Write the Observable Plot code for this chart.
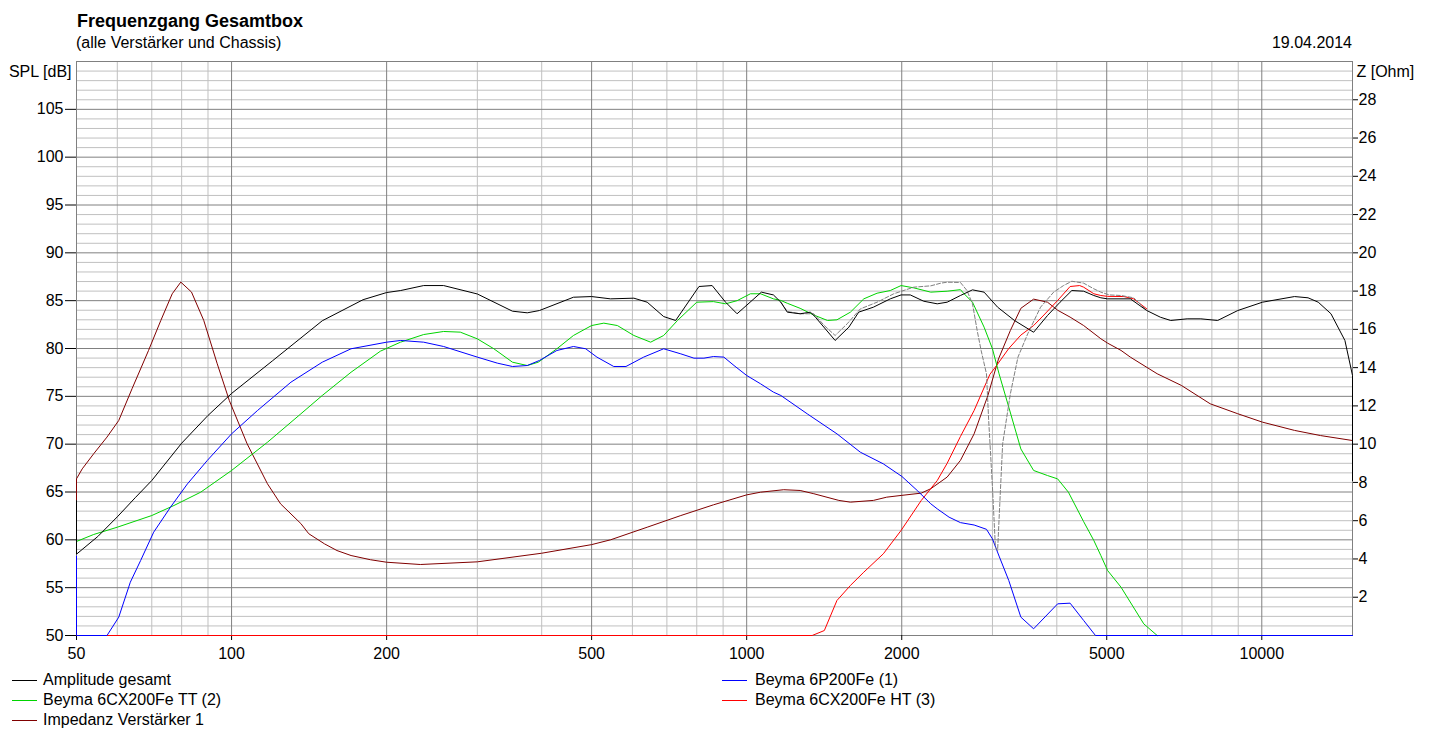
<!DOCTYPE html>
<html>
<head>
<meta charset="utf-8">
<script src="https://cdn.jsdelivr.net/npm/d3@7"></script>
<script src="https://cdn.jsdelivr.net/npm/@observablehq/plot@0.6"></script>
<style>
  body { margin: 0; background: #fff; }
  #page { position: relative; width: 1431px; height: 735px; font-family: "Liberation Sans", Arial, sans-serif; color: #000; }
  .txt { position: absolute; white-space: nowrap; }
  #title { left: 77px; top: 12px; font-size: 18px; line-height: 18px; font-weight: bold; }
  #subtitle { left: 76px; top: 35px; font-size: 16px; line-height: 16px; }
  #date { right: 79px; top: 35px; font-size: 16px; line-height: 16px; }
  #chart { position: absolute; left: 0; top: 52px; }
  .leg { position: absolute; font-size: 16px; line-height: 16px; white-space: nowrap; }
  .swatch { position: absolute; height: 0; border-top: 1px solid; }
</style>
</head>
<body>
<div id="page">
  <div class="txt" id="title">Frequenzgang Gesamtbox</div>
  <div class="txt" id="subtitle">(alle Verstärker und Chassis)</div>
  <div class="txt" id="date">19.04.2014</div>
  <div id="chart"></div>
  <div id="legend"></div>
</div>
<script>
// axes
const freqTicks = [50, 100, 200, 500, 1000, 2000, 5000, 10000];
const freqMajor = [100, 200, 500, 1000, 2000, 5000, 10000];
const freqMinor = [60, 70, 80, 90, 300, 400, 600, 700, 800, 900, 3000, 4000, 6000, 7000, 8000, 9000];
const splTicks = [50, 55, 60, 65, 70, 75, 80, 85, 90, 95, 100, 105];
const zTicks = [2, 4, 6, 8, 10, 12, 14, 16, 18, 20, 22, 24, 26, 28];

// Amplitude gesamt (dB)
const gesamtF = [50, 50, 55, 60, 65, 70, 80, 90, 100, 120, 150, 180, 200, 213, 236, 258, 300, 351, 375, 396,
  461, 500, 544, 604, 641, 690, 728, 808, 857, 910, 958, 1068, 1127, 1165, 1199, 1270, 1330, 1360, 1485, 1579,
  1650, 1762, 1900, 1994, 2078, 2207, 2344, 2450, 2600, 2744, 2890, 3070, 3310, 3606, 3837, 4059, 4278, 4510, 4720, 4870,
  5020, 5557, 5980, 6355, 6655, 7163, 7615, 8210, 8982, 10030, 11575, 12297, 12870, 13624, 14500, 15000, 15000];
const gesamtDb = [64.1, 58.5, 60.35, 62.4, 64.4, 66.2, 70.1, 73.0, 75.3, 78.7, 82.9, 85.1, 85.85, 86.06, 86.58, 86.58, 85.7, 83.9, 83.73, 83.97,
  85.36, 85.43, 85.19, 85.26, 84.84, 83.34, 82.93, 86.48, 86.58, 84.84, 83.63, 85.89, 85.6, 84.84, 83.8, 83.63, 83.8, 83.27, 80.84, 82.23,
  83.8, 84.32, 85.19, 85.6, 85.6, 84.94, 84.67, 84.84, 85.54, 86.13, 85.89, 84.32, 82.93, 81.7, 83.45, 84.84, 86.06, 85.99, 85.54, 85.3,
  85.19, 85.19, 83.97, 83.27, 82.93, 83.1, 83.1, 82.93, 83.97, 84.84, 85.43, 85.3, 84.84, 83.63, 80.84, 77.18, 66.2];

// Beyma 6P200Fe (1)
const p200F = [50, 50, 57.3, 60.4, 63.6, 66.6, 70.6, 76.1, 82.1, 89.7, 100, 112.3, 130.4, 150, 170.6, 200, 213, 236, 258, 300,
  328, 351, 375, 396, 428, 461, 487, 512, 552, 583, 631, 690, 745, 790, 826, 862, 903, 945, 1000, 1064,
  1127, 1165, 1311, 1497, 1662, 1842, 2002, 2143, 2277, 2344, 2471, 2600, 2764, 2921, 3000, 3090, 3227, 3406, 3606, 4015,
  4245, 4510, 4755, 15000];
const p200Db = [58.3, 50, 50, 51.92, 55.57, 57.84, 60.8, 63.41, 65.85, 68.29, 71.08, 73.52, 76.48, 78.57, 79.97, 80.66, 80.84, 80.66, 80.21, 79.1,
  78.47, 78.12, 78.22, 78.75, 79.79, 80.21, 79.97, 79.1, 78.12, 78.12, 79.1, 79.97, 79.44, 78.99, 78.99, 79.16, 79.1, 78.22, 77.18, 76.31,
  75.44, 75.09, 73.17, 71.08, 69.16, 67.94, 66.62, 65.16, 63.77, 63.24, 62.37, 61.8, 61.55, 61.1, 60.1, 58.3, 55.75, 51.92, 50.7, 53.31,
  53.38, 51.57, 50, 50];

// Beyma 6CX200Fe TT (2)
const ttF = [50, 54, 60, 70, 77.3, 87.1, 100, 117.4, 136.3, 150, 170.6, 194.5, 212.8, 236, 258, 278, 300, 323, 351, 375,
  394, 428, 461, 500, 528, 561, 604, 651, 690, 734, 800, 862, 910, 958, 1017, 1064, 1127, 1165, 1199, 1270,
  1350, 1435, 1497, 1590, 1688, 1791, 1900, 1994, 2110, 2277, 2450, 2600, 2643, 2744, 2890, 3000, 3090, 3227, 3406, 3606,
  3837, 4015, 4213, 4510, 4720, 4870, 5020, 5330, 5900, 6265];
const ttDb = [59.83, 60.56, 61.32, 62.54, 63.59, 64.98, 67.25, 70.2, 73.17, 75.09, 77.52, 79.72, 80.66, 81.46, 81.78, 81.71, 81.01, 79.97, 78.57, 78.22,
  78.57, 79.97, 81.36, 82.4, 82.65, 82.4, 81.36, 80.66, 81.36, 82.93, 84.84, 84.9, 84.67, 85.0, 85.72, 85.72, 85.19, 85.02, 84.73, 84.2,
  83.5, 82.93, 83.0, 83.8, 85.19, 85.78, 86.06, 86.58, 86.34, 85.89, 85.99, 86.15, 85.72, 84.84, 82.23, 79.97, 77.35, 73.87, 69.5, 67.25,
  66.72, 66.37, 64.98, 61.9, 59.93, 58.36, 56.79, 55.05, 51.22, 50];

// Beyma 6CX200Fe HT (3)
const htF = [50, 1340, 1415, 1497, 1590, 1688, 1842, 1994, 2182, 2344, 2450, 2600, 2764, 2966, 3040, 3227, 3406, 3606, 3776, 4015,
  4245, 4430, 4510, 4720, 4870, 5020, 5400, 5640, 5980];
const htDb = [50, 50, 50.52, 53.66, 55.23, 56.62, 58.54, 60.98, 64.11, 66.2, 68.0, 70.8, 73.52, 77.3, 78.05, 80.0, 81.4, 82.4, 83.5, 85.02,
  86.48, 86.58, 86.41, 85.72, 85.54, 85.45, 85.43, 85.19, 84.14];

// grey dashed sum curve
const dashF = [1165, 1199, 1270, 1350, 1415, 1485, 1567, 1662, 1791, 1930, 2110, 2277, 2382, 2450, 2600, 2677, 2744, 2802, 2852, 2921,
  2950, 3000, 3040, 3070, 3100, 3140, 3250, 3362, 3512, 3720, 3944, 4122, 4278, 4510, 4720, 4870, 5060, 5330, 5640, 5980];
const dashDb = [84.84, 83.87, 83.63, 83.63, 82.4, 81.36, 82.58, 84.14, 84.84, 85.72, 86.41, 86.55, 86.83, 86.93, 86.9, 86.06, 84.67, 81.88, 79.79, 77.35,
  72.47, 65.5, 59.23, 58.88, 63.77, 70.04, 75.26, 79.09, 81.53, 84.32, 85.89, 86.58, 87.03, 86.83, 86.24, 85.89, 85.6, 85.54, 85.3, 83.97];

// Impedanz Verstärker 1 (Ohm, right axis)
const impF = [50, 50, 51.3, 54, 57.3, 60.4, 64.1, 69, 72.9, 76.7, 79.7, 83.6, 88.3, 93.8, 99, 107.2, 117.4, 124.5, 136.3, 141.2,
  151.5, 160.2, 170.6, 186, 200, 232.5, 300, 400, 500, 544, 641, 745, 862, 1000, 1064, 1180, 1270, 1350, 1510, 1590,
  1762, 1870, 1994, 2182, 2277, 2450, 2600, 2764, 2940, 3082, 3250, 3406, 3606, 3837, 4015, 4245, 4510, 4870, 5020, 5330,
  5557, 6265, 6980, 7940, 8982, 10030, 11575, 13000, 15000];
const impOhm = [7.06, 8.19, 8.71, 9.5, 10.37, 11.24, 12.9, 14.9, 16.47, 17.86, 18.47, 17.95, 16.47, 14.2, 12.28, 10.02, 7.93, 6.88, 5.85, 5.32,
  4.79, 4.44, 4.18, 3.96, 3.83, 3.71, 3.85, 4.3, 4.75, 5.0, 5.66, 6.27, 6.83, 7.35, 7.49, 7.62, 7.58, 7.41, 7.06, 6.97,
  7.06, 7.23, 7.32, 7.44, 7.67, 8.28, 9.15, 10.54, 12.55, 14.45, 15.94, 17.1, 17.58, 17.42, 17.0, 16.64, 16.2, 15.51, 15.28, 14.9,
  14.55, 13.68, 13.07, 12.11, 11.59, 11.15, 10.72, 10.45, 10.19];

const seriesNames = ["Amplitude gesamt", "Beyma 6P200Fe (1)", "Beyma 6CX200Fe TT (2)", "Beyma 6CX200Fe HT (3)", "Impedanz Verstärker 1"];
const seriesColors = ["#000000", "#0000ff", "#00d400", "#ff0000", "#800000"];

// 0..30 Ohm shares the 50..110 dB range
const zToSpl = z => 50 + z * 2;
const splToZ = v => (v - 50) / 2;

function rows(fs, vs, conv) {
  return fs.map((f, i) => ({f: f, v: conv ? conv(vs[i]) : vs[i]}));
}

const dbMinor = d3.range(51, 110).filter(d => d % 5 !== 0);

let chart = Plot.plot({
  width: 1431,
  height: 613,
  marginTop: 9,
  marginBottom: 30,
  marginLeft: 76,
  marginRight: 79,
  style: {
    fontFamily: '"Liberation Sans", Arial, sans-serif',
    fontSize: "16px",
    color: "#000",
    background: "#fff",
    overflow: "visible"
  },
  x: {type: "log", domain: [50, 15000]},
  y: {domain: [50, 110]},
  marks: [
    Plot.ruleY(dbMinor, {stroke: "#c0c0c0"}),
    Plot.ruleX(freqMinor, {stroke: "#c0c0c0"}),
    Plot.ruleY(splTicks, {stroke: "#808080"}),
    Plot.ruleX(freqMajor, {stroke: "#808080"}),
    Plot.frame({stroke: "#808080"}),
    Plot.axisX(freqTicks, {tickSize: 5, tickPadding: 7, tickFormat: d => String(d), label: null}),
    Plot.axisY(splTicks, {anchor: "left", tickSize: 11, tickPadding: 2, label: null}),
    Plot.axisY(zTicks.map(zToSpl), {anchor: "right", tickSize: 5, tickPadding: 1, tickFormat: d => String(splToZ(d)), label: null}),
    Plot.text(["SPL [dB]"], {frameAnchor: "top-left", dx: -5, dy: 15, textAnchor: "end", lineAnchor: "bottom"}),
    Plot.text(["Z [Ohm]"], {frameAnchor: "top-right", dx: 4, dy: 15, textAnchor: "start", lineAnchor: "bottom"}),
    Plot.line(rows(impF, impOhm, zToSpl), {x: "f", y: "v", stroke: seriesColors[4], strokeWidth: 1}),
    Plot.line(rows(htF, htDb), {x: "f", y: "v", stroke: seriesColors[3], strokeWidth: 1}),
    Plot.line(rows(ttF, ttDb), {x: "f", y: "v", stroke: seriesColors[2], strokeWidth: 1}),
    Plot.line(rows(p200F, p200Db), {x: "f", y: "v", stroke: seriesColors[1], strokeWidth: 1}),
    Plot.line(rows(dashF, dashDb), {x: "f", y: "v", stroke: "#808080", strokeWidth: 1, strokeDasharray: "4,2"}),
    Plot.line(rows(gesamtF, gesamtDb), {x: "f", y: "v", stroke: seriesColors[0], strokeWidth: 1})
  ]
});
document.getElementById("chart").append(chart);

// legend, two columns like the original
let legendPos = [[12, 680], [722, 680], [12, 700], [722, 700], [12, 720]];
let legend = d3.select("#legend");
seriesNames.forEach((name, i) => {
  let [lx, ly] = legendPos[i];
  legend.append("div")
    .attr("class", "swatch")
    .style("left", lx + "px")
    .style("top", ly + "px")
    .style("width", "25px")
    .style("border-color", seriesColors[i]);
  legend.append("div")
    .attr("class", "leg")
    .style("left", (lx + 31 + (i % 2 ? 2 : 0)) + "px")
    .style("top", (ly - 8) + "px")
    .text(name);
});
</script>
</body>
</html>
